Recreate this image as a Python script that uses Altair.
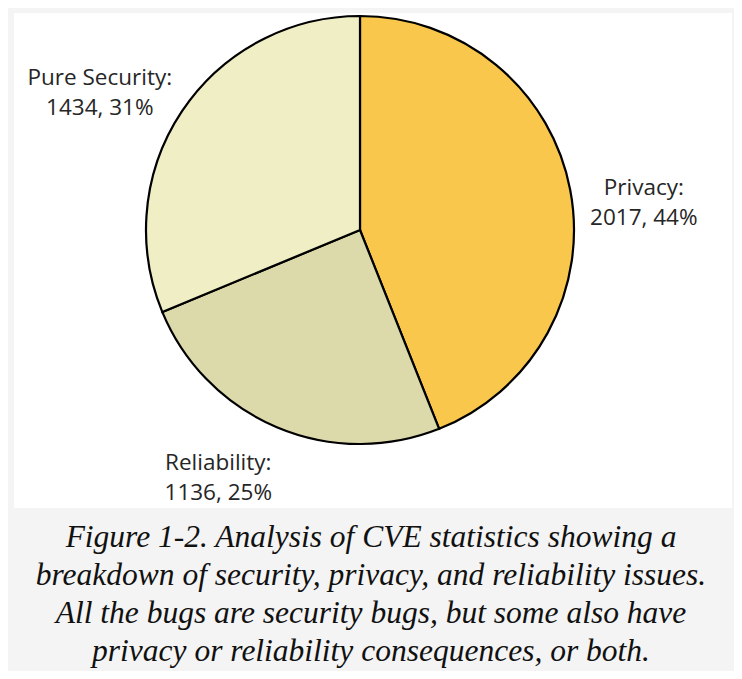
import altair as alt
import pandas as pd

categories = ["Privacy", "Reliability", "Pure Security"]
counts = [2017, 1136, 1434]
percents = ["44%", "25%", "31%"]
colors = ["#F9C74B", "#DCDAAA", "#F0EEC4"]
caption_lines = [
    "Figure 1-2. Analysis of CVE statistics showing a",
    "breakdown of security, privacy, and reliability issues.",
    "All the bugs are security bugs, but some also have",
    "privacy or reliability consequences, or both.",
]

df = pd.DataFrame({
    "category": categories,
    "count": counts,
    "order": list(range(len(categories))),
    "label": [[f"{c}:", f"{n}, {p}"] for c, n, p in zip(categories, counts, percents)],
})

CX, CY, R = 352, 222, 214

panel = alt.Chart(pd.DataFrame({"a": [0]})).mark_rect(color="white").encode(
    x=alt.value(6), x2=alt.value(724), y=alt.value(5), y2=alt.value(500)
)

pie = alt.Chart(df).mark_arc(radius=R, stroke="black", strokeWidth=2.2).encode(
    theta=alt.Theta("count:Q", stack=True),
    order=alt.Order("order:Q"),
    color=alt.Color("category:N", scale=alt.Scale(domain=categories, range=colors), legend=None),
    x=alt.value(CX),
    y=alt.value(CY),
)

base_labels = alt.Chart(df).transform_window(
    cum="sum(count)", sort=[alt.SortField("order")], frame=[None, 0]
).transform_joinaggregate(total="sum(count)").transform_calculate(
    mid="(datum.cum - datum.count / 2) / datum.total"
)

offsets = {"Privacy": (-1, 13), "Reliability": (-29, -34), "Pure Security": (-19, 9)}
label_layers = []
for cat in categories:
    dx, dy = offsets[cat]
    label_layers.append(
        base_labels.transform_filter(alt.datum.category == cat).mark_text(
            radius=290, font="Open Sans", fontSize=22.5, color="#262626",
            align="center", baseline="middle", lineHeight=30, dx=dx, dy=dy,
        ).encode(
            theta=alt.Theta("mid:Q", stack=None, scale=alt.Scale(domain=[0, 1])),
            text="label",
            x=alt.value(CX),
            y=alt.value(CY),
        )
    )

labels = alt.layer(*label_layers)

cap_df = pd.DataFrame({"text": [caption_lines]})
caption = alt.Chart(cap_df).mark_text(
    font="Liberation Serif", fontStyle="italic", fontSize=31.5, color="#111111",
    align="center", baseline="alphabetic", lineHeight=38,
).encode(text="text", x=alt.value(363), y=alt.value(539))

chart = alt.layer(panel, pie, labels, caption).resolve_scale(
    theta="independent"
).properties(
    width=726, height=663, background="#F4F4F4",
    autosize=alt.AutoSizeParams(type="fit", contains="padding"), padding=0,
).configure_view(stroke=None)

chart.save("out.html", embed_options={"renderer": "svg", "actions": False})
